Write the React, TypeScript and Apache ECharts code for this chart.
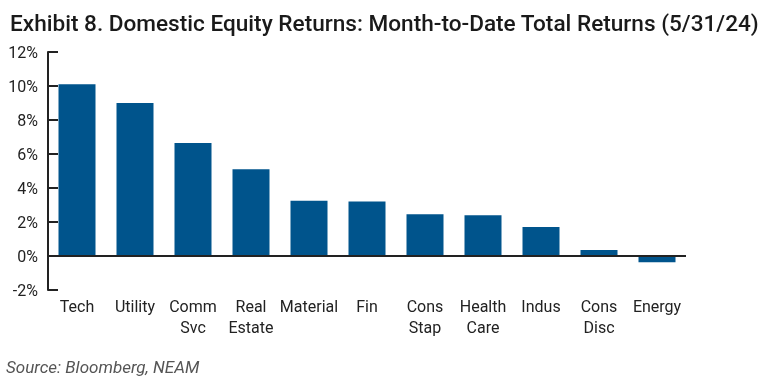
import React, { useEffect, useRef } from "react";
import * as echarts from "echarts";

const categories = ["Tech", "Utility", "Comm\nSvc", "Real\nEstate", "Material", "Fin", "Cons\nStap", "Health\nCare", "Indus", "Cons\nDisc", "Energy"];
const returns = [10.1, 9.0, 6.65, 5.1, 3.25, 3.2, 2.45, 2.4, 1.7, 0.35, -0.37];
const titleText = "Exhibit 8. Domestic Equity Returns: Month-to-Date Total Returns (5/31/24)";
const sourceText = "Source: Bloomberg, NEAM";

export default function App() {
  const ref = useRef<HTMLDivElement>(null);
  useEffect(() => {
    const chart = echarts.init(ref.current!, null, { renderer: "svg" });
    chart.setOption({
      animation: false,
      textStyle: { fontFamily: "Roboto" },
      title: {
        text: titleText,
        left: 5,
        top: 7,
        textStyle: { fontFamily: "Roboto", fontSize: 22.6, fontWeight: 500, color: "#1a1a1a" },
      },
      graphic: [
        {
          type: "text",
          left: 6,
          top: 358,
          style: { text: sourceText, font: "italic 17px Roboto", fill: "#555" },
        },
      ],
      grid: { left: 48, right: 79, top: 52, bottom: 93, containLabel: false },
      xAxis: {
        type: "category",
        data: categories,
        axisLine: { show: false, onZero: false },
        axisTick: { show: false },
        axisLabel: { color: "#222", fontSize: 16, margin: 6, lineHeight: 21, interval: 0 },
      },
      yAxis: {
        type: "value",
        min: -2,
        max: 12,
        interval: 2,
        splitLine: { show: false },
        axisLine: { show: true, lineStyle: { color: "#222", width: 2 } },
        axisTick: { show: true, inside: true, length: 10, lineStyle: { color: "#222", width: 2 } },
        axisLabel: { color: "#222", fontSize: 16, margin: 10, formatter: "{value}%" },
      },
      series: [
        {
          type: "bar",
          data: returns,
          barWidth: 37,
          itemStyle: { color: "#00548C" },
          markLine: {
            silent: true,
            symbol: "none",
            label: { show: false },
            lineStyle: { color: "#222", width: 2, type: "solid" },
            data: [{ yAxis: 0 }],
          },
        },
      ],
    });
    return () => chart.dispose();
  }, []);
  return (
    <div style={{ position: "fixed", left: 0, top: 0 }}>
      <div ref={ref} style={{ width: 765, height: 383 }} />
    </div>
  );
}
